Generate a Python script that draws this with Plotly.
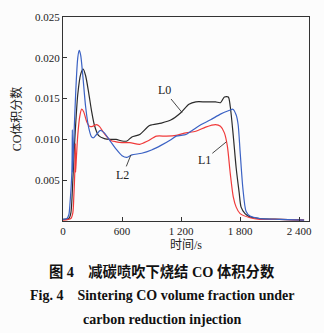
import plotly.graph_objects as go

# Time (s) and CO volume fraction for the three injection cases
l0_t = [0, 60, 80, 100, 120, 150, 180, 205, 230, 260, 290, 320, 360, 420, 480, 540, 600, 650, 700,
        780, 880, 1000, 1100, 1200, 1280, 1350, 1450, 1550, 1600, 1640, 1680, 1700, 1730, 1760,
        1790, 1810, 1850, 1900, 2000, 2200, 2450]
l0_co = [0.0002, 0.0003, 0.0010, 0.0050, 0.0100, 0.0155, 0.0180, 0.0186, 0.0178, 0.0158, 0.0135,
         0.0117, 0.0105, 0.0101, 0.0100, 0.0100, 0.0098, 0.0098, 0.0103, 0.0106, 0.0117, 0.0120,
         0.0124, 0.0133, 0.0143, 0.0146, 0.0146, 0.0146, 0.0145, 0.0152, 0.0152, 0.0140, 0.0105,
         0.0065, 0.0035, 0.0017, 0.0009, 0.0005, 0.0003, 0.0002, 0.0001]

l1_t = [0, 80, 100, 110, 120, 125, 128, 135, 150, 170, 190, 210, 240, 270, 300, 340, 370, 420, 480,
        540, 600, 680, 780, 860, 950, 1050, 1150, 1250, 1350, 1450, 1550, 1600, 1640, 1670, 1700,
        1730, 1760, 1800, 1900, 2000, 2200, 2450]
l1_co = [0.0001, 0.0003, 0.0010, 0.0030, 0.0060, 0.0095, 0.0060, 0.0075, 0.0105, 0.0128, 0.0137,
         0.0134, 0.0122, 0.0116, 0.0116, 0.0118, 0.0116, 0.0107, 0.0099, 0.0097, 0.0096, 0.0096,
         0.0094, 0.0098, 0.0104, 0.0104, 0.0105, 0.0108, 0.0110, 0.0115, 0.0118, 0.0116, 0.0108,
         0.0092, 0.0058, 0.0030, 0.0017, 0.0009, 0.0004, 0.0002, 0.0002, 0.0001]

l2_t = [0, 40, 60, 70, 90, 95, 98, 110, 130, 150, 165, 180, 200, 230, 260, 290, 310, 340, 380, 420,
        480, 540, 600, 650, 700, 800, 900, 1000, 1100, 1150, 1250, 1300, 1400, 1500, 1600, 1700,
        1726, 1760, 1780, 1800, 1828, 1860, 1900, 2000, 2200, 2450]
l2_co = [0.0002, 0.0003, 0.0008, 0.0020, 0.0060, 0.0112, 0.0060, 0.0100, 0.0160, 0.0200, 0.0209,
         0.0203, 0.0180, 0.0140, 0.0115, 0.0103, 0.0102, 0.0106, 0.0111, 0.0108, 0.0098, 0.0088,
         0.0080, 0.0078, 0.0081, 0.0083, 0.0087, 0.0093, 0.0100, 0.0104, 0.0106, 0.0110, 0.0118,
         0.0124, 0.0131, 0.0136, 0.0137, 0.0130, 0.0118, 0.0085, 0.0040, 0.0012, 0.0006, 0.0003,
         0.0002, 0.0001]

x_ticks = [0, 600, 1200, 1800, 2400]
x_tick_text = ["0", "600", "1 200", "1 800", "2 400"]
y_ticks = [0.005, 0.010, 0.015, 0.020, 0.025]
y_tick_text = ["0.005", "0.010", "0.015", "0.020", "0.025"]

SERIF = "Liberation Serif, Times New Roman, Noto Sans CJK SC, serif"
CJK = "Liberation Serif, Noto Sans CJK SC, serif"

W, H = 324, 333
M_L, M_R, M_T, M_B = 63, 15, 11, 112
PLOT_H = H - M_T - M_B

fig = go.Figure()
series = [
    (l0_t, l0_co, "#2b2b2b", "L0"),
    (l1_t, l1_co, "#f03a3a", "L1"),
    (l2_t, l2_co, "#3b62c4", "L2"),
]
for t, c, col, name in series:
    fig.add_trace(go.Scatter(x=t, y=c, mode="lines", name=name,
                             line=dict(color=col, width=1.2, shape="spline", smoothing=0.7)))

axis_common = dict(showline=True, linecolor="#333", linewidth=1, mirror=True,
                   ticks="inside", ticklen=4, tickcolor="#333", showgrid=False, zeroline=False,
                   tickfont=dict(family=SERIF, size=11, color="#222"))

fig.update_xaxes(range=[0, 2500], tickvals=x_ticks, ticktext=x_tick_text,
                 title=dict(text="时间/s", font=dict(family=CJK, size=12, color="#222"), standoff=4),
                 **axis_common)
fig.update_yaxes(range=[0, 0.025], tickvals=y_ticks, ticktext=y_tick_text,
                 title=dict(text="CO体积分数", font=dict(family=CJK, size=12, color="#222"), standoff=10),
                 **axis_common)

# Curve labels with leader lines: (text, x, y, label offset dx, dy in px)
labels = [
    ("L0", 1210, 0.0133, -18, -22),
    ("L1", 1660, 0.0097, -22, 18),
    ("L2", 690, 0.0081, -8, 20),
]
for txt, x, y, ax, ay in labels:
    fig.add_annotation(x=x, y=y, text=txt, showarrow=True, arrowhead=0, arrowwidth=0.9,
                       arrowcolor="#333", ax=ax, ay=ay,
                       font=dict(family=SERIF, size=12, color="#222"))

# Caption below the chart (paper y is measured on the plot area)
caption = [
    ("<b>图 4　减碳喷吹下烧结 CO 体积分数</b>", 273, 14.3),
    ("<b>Fig. 4　Sintering CO volume fraction under</b>", 298, 14),
    ("<b>carbon reduction injection</b>", 322, 14),
]
for txt, ypx, fs in caption:
    fig.add_annotation(x=0.5 + (W / 2 - (M_L + (W - M_L - M_R) / 2)) / (W - M_L - M_R),
                       y=(H - M_B - ypx) / PLOT_H, xref="paper", yref="paper", text=txt,
                       showarrow=False, xanchor="center", yanchor="middle",
                       font=dict(family=CJK, size=fs, color="#111"))

fig.update_layout(
    width=W, height=H,
    margin=dict(l=M_L, r=M_R, t=M_T, b=M_B),
    paper_bgcolor="#fcfcfc", plot_bgcolor="#fcfcfc",
    showlegend=False,
)

fig.write_html("out.html")
